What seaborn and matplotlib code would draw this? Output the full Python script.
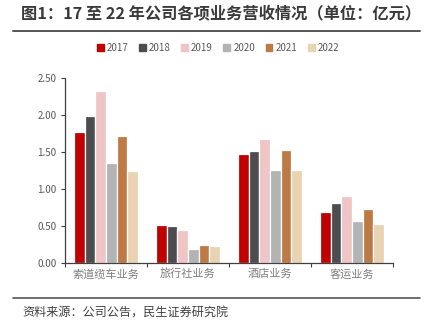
import matplotlib
matplotlib.use("Agg")
import matplotlib.pyplot as plt
from matplotlib.lines import Line2D
from matplotlib.ticker import MultipleLocator, FixedLocator
import seaborn as sns
import pandas as pd

categories = ["索道缆车业务", "旅行社业务", "酒店业务", "客运业务"]
years = ["2017", "2018", "2019", "2020", "2021", "2022"]
revenue = {
    "2017": [1.77, 0.515, 1.47, 0.69],
    "2018": [1.99, 0.50, 1.52, 0.81],
    "2019": [2.32, 0.44, 1.68, 0.91],
    "2020": [1.355, 0.19, 1.255, 0.57],
    "2021": [1.71, 0.24, 1.53, 0.735],
    "2022": [1.25, 0.225, 1.26, 0.53],
}
colors = ["#C00000", "#4D4D4F", "#EFC5C5", "#B3B3B3", "#BE7A45", "#E8D4B3"]

rows = [(c, y, revenue[y][i]) for y in years for i, c in enumerate(categories)]
df = pd.DataFrame(rows, columns=["业务", "年份", "营收"])

sns.set_theme(style="white")
plt.rcParams["font.family"] = ["Noto Sans CJK SC", "DejaVu Sans"]

fig = plt.figure(figsize=(4.3, 3.3), dpi=100)
ax = fig.add_axes([65 / 430, 1 - 263 / 330, 328 / 430, (263 - 78) / 330])

sns.barplot(data=df, x="业务", y="营收", hue="年份", hue_order=years,
            order=categories, palette=colors, saturation=1, width=0.78,
            edgecolor="white", linewidth=0.9, ax=ax, legend=False)

ax.set_xlim(-0.5, 3.5)
ax.set_ylim(0, 2.5)
ax.yaxis.set_major_locator(MultipleLocator(0.5))
ax.yaxis.set_major_formatter(matplotlib.ticker.FormatStrFormatter("%.2f"))
ax.set_xlabel("")
ax.set_ylabel("")

ax.xaxis.set_minor_locator(FixedLocator([-0.5, 0.5, 1.5, 2.5, 3.5]))
ax.tick_params(axis="x", which="major", length=0, pad=4,
               labelsize=8, labelcolor="#7F7F7F")
ax.tick_params(axis="x", which="minor", length=3, width=0.8,
               color="#404040", direction="out", bottom=True)
ax.tick_params(axis="y", length=3, width=0.8, color="#404040",
               direction="out", left=True, labelsize=7, labelcolor="#595959", pad=3)

for side in ["top", "right"]:
    ax.spines[side].set_visible(False)
for side in ["left", "bottom"]:
    ax.spines[side].set_color("#404040")
    ax.spines[side].set_linewidth(0.9)

handles = [plt.Rectangle((0, 0), 1, 1, color=c) for c in colors]
fig.legend(handles, years, loc="center", bbox_to_anchor=(218 / 430, 1 - 48 / 330),
           ncol=6, frameon=False, fontsize=7, labelcolor="#595959",
           handlelength=0.7, handleheight=0.7, handletextpad=0.3,
           columnspacing=1.1)

fig.text(21 / 430, 1 - 14 / 330, "图1：17 至 22 年公司各项业务营收情况（单位：亿元）",
         fontsize=11.7, fontweight="bold", color="#3A3A3A", va="center", ha="left")
fig.add_artist(Line2D([13 / 430, 420 / 430], [1 - 31 / 330] * 2,
                      color="#555555", linewidth=1.4))
fig.add_artist(Line2D([13 / 430, 420 / 430], [1 - 298 / 330] * 2,
                      color="#555555", linewidth=1.2))
fig.text(22 / 430, 1 - 313 / 330, "资料来源：公司公告，民生证券研究院",
         fontsize=8.7, color="#404040", va="center", ha="left")

fig.savefig("out.png", dpi=100)
